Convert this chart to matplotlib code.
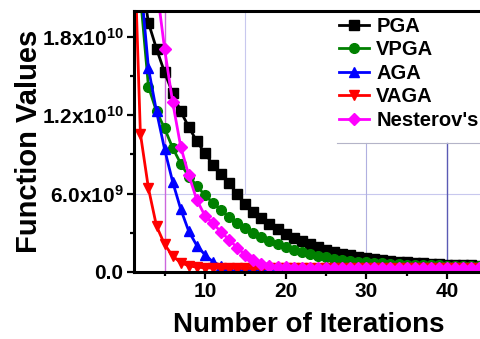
import matplotlib
matplotlib.use("Agg")
import matplotlib.pyplot as plt
from matplotlib.ticker import MultipleLocator, FixedLocator, FixedFormatter

plt.rcParams["font.family"] = ["Liberation Sans", "DejaVu Sans"]
plt.rcParams["font.weight"] = "bold"
plt.rcParams["mathtext.fontset"] = "custom"
plt.rcParams["mathtext.rm"] = "Liberation Sans:bold"
plt.rcParams["mathtext.bf"] = "Liberation Sans:bold"
plt.rcParams["mathtext.default"] = "bf"

# iteration index and function values (x 1e9)
iters = list(range(1, 47))
pga = [30, 23.2, 19.1, 17.1, 15.3, 13.7, 12.3, 11.1, 10.0, 9.1,
       8.2, 7.5, 6.8, 5.95, 5.2, 4.6, 4.1, 3.65, 3.25, 2.9,
       2.6, 2.33, 2.1, 1.9, 1.7, 1.53, 1.38, 1.26, 1.15, 1.05,
       0.97, 0.9, 0.84, 0.78, 0.73, 0.69, 0.65, 0.61, 0.58, 0.55,
       0.52, 0.5, 0.48, 0.46, 0.44, 0.43]
vpga = [30, 21.2, 14.2, 12.3, 11.0, 9.5, 8.3, 7.3, 6.6, 5.85,
        5.3, 4.75, 4.2, 3.75, 3.35, 2.95, 2.65, 2.35, 2.1, 1.88,
        1.68, 1.5, 1.36, 1.23, 1.11, 1.0, 0.92, 0.84, 0.77, 0.72,
        0.67, 0.63, 0.6, 0.57, 0.55, 0.53, 0.51, 0.5, 0.48, 0.47,
        0.45, 0.44, 0.43, 0.42, 0.41, 0.4]
aga = [30, 22.5, 15.6, 12.3, 9.4, 6.9, 4.8, 3.1, 2.0, 1.3,
       0.75, 0.45, 0.32, 0.28, 0.26, 0.25, 0.25, 0.25, 0.25, 0.25,
       0.25, 0.25, 0.25, 0.25, 0.25, 0.25, 0.25, 0.25, 0.25, 0.25,
       0.25, 0.25, 0.25, 0.25, 0.25, 0.25, 0.25, 0.25, 0.25, 0.25,
       0.25, 0.25, 0.25, 0.25, 0.25, 0.25]
vaga = [29.8, 10.6, 6.4, 3.5, 2.1, 1.2, 0.7, 0.45, 0.35, 0.3,
        0.28, 0.27, 0.26, 0.26, 0.25, 0.25, 0.25, 0.25, 0.25, 0.25,
        0.25, 0.25, 0.25, 0.25, 0.25, 0.25, 0.25, 0.25, 0.25, 0.25,
        0.25, 0.25, 0.25, 0.25, 0.25, 0.25, 0.25, 0.25, 0.25, 0.25,
        0.25, 0.25, 0.25, 0.25, 0.25, 0.25]
nesterov = [30, 27.0, 24.5, 22.0, 17.1, 13.0, 9.6, 7.4, 5.5, 4.3,
            3.7, 3.05, 2.45, 1.85, 1.3, 0.9, 0.62, 0.45, 0.37, 0.33,
            0.3, 0.29, 0.28, 0.27, 0.27, 0.27, 0.27, 0.27, 0.27, 0.27,
            0.27, 0.27, 0.27, 0.27, 0.27, 0.27, 0.27, 0.27, 0.27, 0.27,
            0.27, 0.27, 0.27, 0.27, 0.27, 0.27]

names = ["PGA", "VPGA", "AGA", "VAGA", "Nesterov's"]
series = [pga, vpga, aga, vaga, nesterov]
colors = ["black", "#008000", "#0000ff", "#ff0000", "#ff00ff"]
markers = ["s", "o", "^", "v", "D"]

ytick_vals = [0, 6e9, 1.2e10, 1.8e10]
ytick_labels = ["0.0", "6.0x10$^{9}$", "1.2x10$^{10}$", "1.8x10$^{10}$"]

fig = plt.figure(figsize=(4.8, 3.39), dpi=100)
ax = fig.add_axes([0.279, 0.1985, 0.753, 0.769])

# faint guide lines seen in the original
ax.axhline(6e9, color="#c8c8ee", lw=0.8, zorder=0)
ax.axvline(5, color="#cc66dd", lw=1.0, zorder=0)
ax.axvline(15, ymin=0.3, color="#c8c8ee", lw=0.8, zorder=0)
ax.axvline(30, ymax=0.494, color="#b0b0e0", lw=0.8, zorder=0)
ax.axvline(40, ymax=0.494, color="#5a5ab4", lw=1.0, zorder=0)
ax.axhline(9.86e9, xmin=0.5625, color="#b4b4c8", lw=0.8, zorder=0)

for name, vals, c, m in zip(names, series, colors, markers):
    ms = 6.5 if m == "D" else 7
    ax.plot(iters, [v * 1e9 for v in vals], color=c, marker=m, ms=ms,
            lw=2, label=name)

ax.set_xlim(1.2, 46)
ax.set_ylim(0, 2e10)
ax.xaxis.set_major_locator(FixedLocator([10, 20, 30, 40]))
ax.xaxis.set_minor_locator(MultipleLocator(5))
ax.yaxis.set_major_locator(FixedLocator(ytick_vals))
ax.yaxis.set_major_formatter(FixedFormatter(ytick_labels))
ax.yaxis.set_minor_locator(MultipleLocator(3e9))

ax.tick_params(which="major", direction="out", length=5, width=1.6,
               labelsize=15, pad=2.5)
ax.tick_params(which="minor", direction="out", length=3, width=1.6)
for lab in ax.get_xticklabels() + ax.get_yticklabels():
    lab.set_fontweight("bold")

for s in ["left", "bottom", "top"]:
    ax.spines[s].set_linewidth(2.2)
ax.spines["right"].set_visible(False)

ax.set_xlabel("Number of Iterations", fontsize=20, fontweight="bold")
ax.set_ylabel("Function Values", fontsize=21, fontweight="bold")
ax.xaxis.set_label_coords(0.484, -0.155)
ax.yaxis.set_label_coords(-0.252, 0.5)

leg = ax.legend(loc="upper left", bbox_to_anchor=(0.706, 0.95),
                bbox_transform=fig.transFigure, frameon=False,
                borderaxespad=0, borderpad=0, handlelength=1.5,
                handletextpad=0.36, labelspacing=0.22,
                prop={"size": 14.5, "weight": "bold"})

fig.savefig("out.png", dpi=100)
